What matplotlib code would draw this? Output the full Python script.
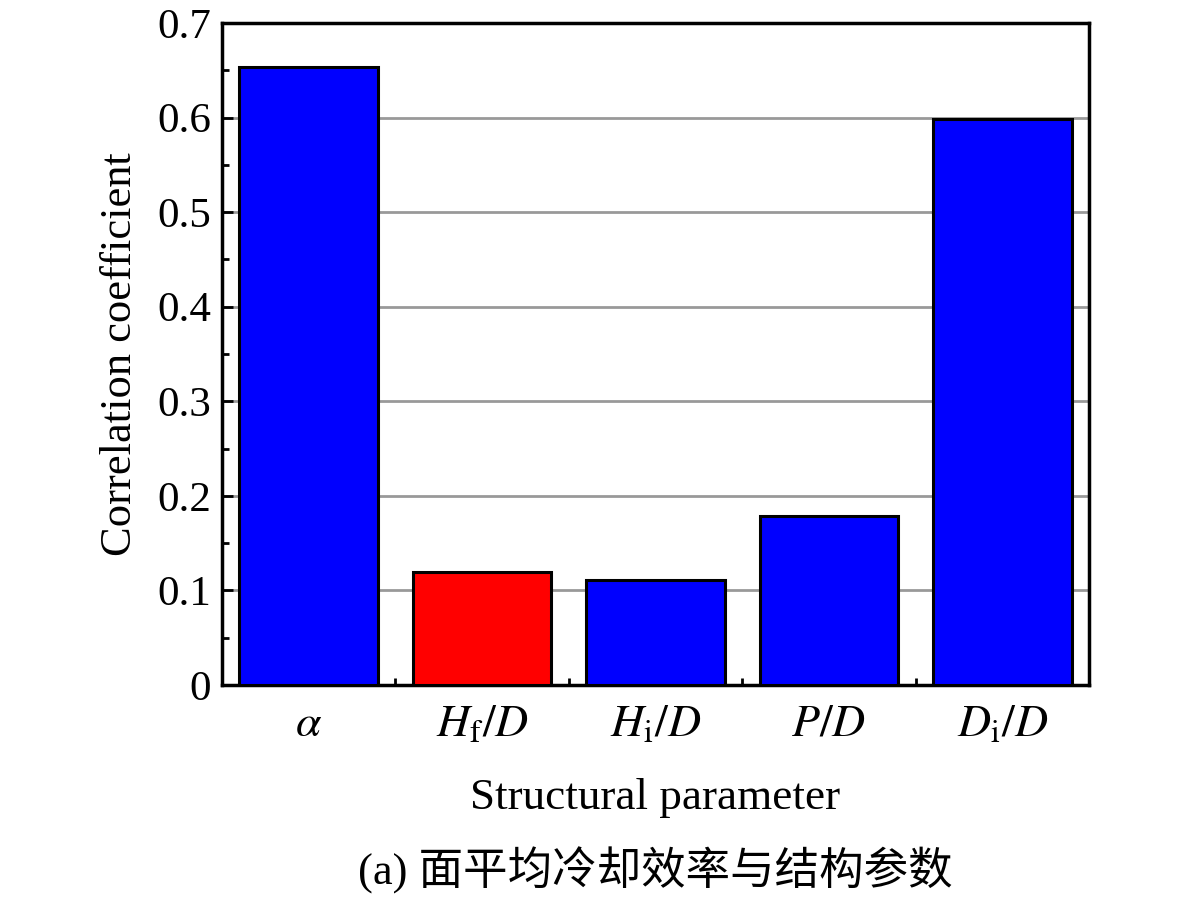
import matplotlib
matplotlib.use("Agg")
import matplotlib.pyplot as plt
import numpy as np

params = [r"$\alpha$", r"$H_\mathrm{f}/D$", r"$H_\mathrm{i}/D$", r"$P/D$", r"$D_\mathrm{i}/D$"]
corr = [0.654, 0.119, 0.111, 0.179, 0.599]
colors = ["#0000ff", "#ff0000", "#0000ff", "#0000ff", "#0000ff"]
yticks = [0, 0.1, 0.2, 0.3, 0.4, 0.5, 0.6, 0.7]
ytick_labels = ["0", "0.1", "0.2", "0.3", "0.4", "0.5", "0.6", "0.7"]

plt.rcParams["font.family"] = ["Liberation Serif", "Noto Sans CJK SC"]
plt.rcParams["mathtext.fontset"] = "stix"

fig = plt.figure(figsize=(11.81, 9.02), dpi=100)
ax = fig.add_axes([222 / 1181, 1 - 685 / 902, 867 / 1181, 662 / 902])

x = np.arange(len(params))
ax.bar(x, corr, width=0.8, color=colors, edgecolor="black", linewidth=2.2, zorder=3)

ax.set_xlim(-0.5, len(params) - 0.5)
ax.set_ylim(0, 0.7)
ax.set_yticks(yticks)
ax.set_yticklabels(ytick_labels, fontsize=31)
ax.set_yticks(np.arange(0.05, 0.7, 0.1), minor=True)
ax.set_xticks(x)
ax.set_xticklabels(params, fontsize=33)
ax.set_xticks(np.arange(0.5, len(params) - 0.5, 1), minor=True)

ax.grid(axis="y", color="#999999", linewidth=2, zorder=0)
ax.tick_params(axis="both", which="major", direction="in", length=8, width=2)
ax.tick_params(axis="x", which="major", length=0, pad=13)
ax.tick_params(axis="both", which="minor", direction="in", length=5, width=2)
ax.tick_params(axis="y", which="major", pad=8)
for s in ax.spines.values():
    s.set_linewidth(2.5)

ax.set_ylabel("Correlation coefficient", fontsize=32, labelpad=12)
ax.set_xlabel("Structural parameter", fontsize=32.5, labelpad=23)

fig.text(655 / 1181, 1 - 870 / 902, "(a) 面平均冷却效率与结构参数", fontsize=32,
         ha="center", va="center")

fig.savefig("out.png", dpi=100)
